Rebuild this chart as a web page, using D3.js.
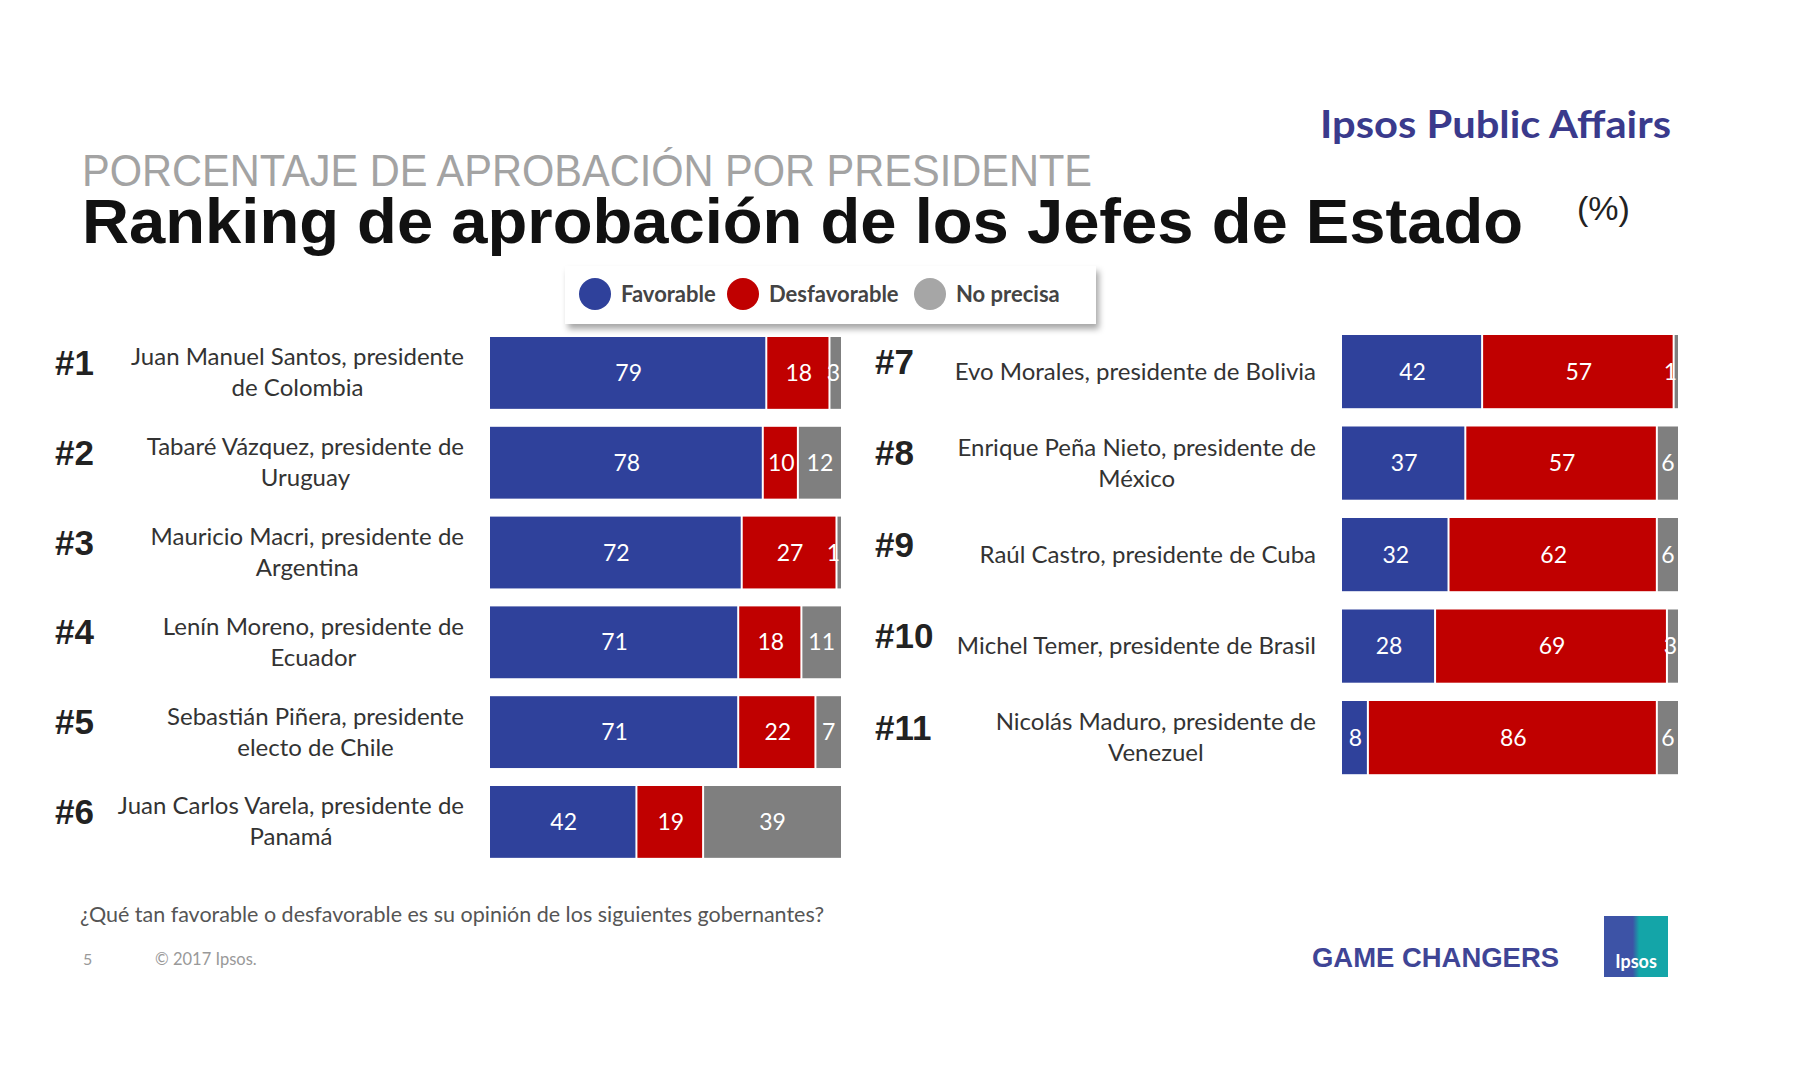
<!DOCTYPE html>
<html>
<head>
<script src="https://d3js.org/d3.v7.min.js"></script>
<style>
  body { margin: 0; background: #fff; }
  svg text { font-family: Lato, "Open Sans", sans-serif; }
</style>
</head>
<body>
<script>
// data
var ranks = ['#1', '#2', '#3', '#4', '#5', '#6', '#7', '#8', '#9', '#10', '#11'];
var names = [
  ['Juan Manuel Santos, presidente', 'de Colombia'],
  ['Tabaré Vázquez, presidente de', 'Uruguay'],
  ['Mauricio Macri, presidente de', 'Argentina'],
  ['Lenín Moreno, presidente de', 'Ecuador'],
  ['Sebastián Piñera, presidente', 'electo de Chile'],
  ['Juan Carlos Varela, presidente de', 'Panamá'],
  ['Evo Morales, presidente de Bolivia'],
  ['Enrique Peña Nieto, presidente de', 'México'],
  ['Raúl Castro, presidente de Cuba'],
  ['Michel Temer, presidente de Brasil'],
  ['Nicolás Maduro, presidente de', 'Venezuel']
];
var favorable    = [79, 78, 72, 71, 71, 42, 42, 37, 32, 28, 8];
var desfavorable = [18, 10, 27, 18, 22, 19, 57, 57, 62, 69, 86];
var noPrecisa    = [3, 12, 1, 11, 7, 39, 1, 6, 6, 3, 6];
var seriesNames  = ['Favorable', 'Desfavorable', 'No precisa'];
var colors       = ['#2f419b', '#c00000', '#7f7f7f'];

var w = 1800, h = 1091;
var svg = d3.select('body').append('svg').attr('width', w).attr('height', h);

var defs = svg.append('defs');
var f = defs.append('filter').attr('id', 'shadow').attr('x', '-10%').attr('y', '-30%').attr('width', '120%').attr('height', '170%');
f.append('feDropShadow').attr('dx', 3).attr('dy', 5).attr('stdDeviation', 3).attr('flood-color', '#000').attr('flood-opacity', 0.35);
var lg = defs.append('linearGradient').attr('id', 'logo').attr('x1', 0).attr('x2', 1).attr('y1', 0).attr('y2', 0);
lg.append('stop').attr('offset', '0%').attr('stop-color', '#3d53a6');
lg.append('stop').attr('offset', '45%').attr('stop-color', '#3d53a6');
lg.append('stop').attr('offset', '55%').attr('stop-color', '#14a5a8');
lg.append('stop').attr('offset', '100%').attr('stop-color', '#14a5a8');

// headings
svg.append('text').attr('x', 1320).attr('y', 138)
  .attr('textLength', 351).attr('lengthAdjust', 'spacingAndGlyphs')
  .style('font-family', 'Lato').style('font-weight', 700).style('font-size', '38px')
  .style('fill', '#3a3a8c').text('Ipsos Public Affairs');

svg.append('text').attr('x', 82).attr('y', 186)
  .attr('textLength', 1010).attr('lengthAdjust', 'spacingAndGlyphs')
  .style('font-family', 'Liberation Sans').style('font-weight', 400).style('font-size', '44px')
  .style('fill', '#a3a3a3').text('PORCENTAJE DE APROBACIÓN POR PRESIDENTE');

svg.append('text').attr('x', 82).attr('y', 243)
  .attr('textLength', 1441).attr('lengthAdjust', 'spacingAndGlyphs')
  .style('font-family', 'Liberation Sans').style('font-weight', 700).style('font-size', '63px')
  .style('fill', '#111').text('Ranking de aprobación de los Jefes de Estado');

svg.append('text').attr('x', 1577).attr('y', 220)
  .style('font-family', 'Liberation Sans').style('font-size', '34px')
  .style('fill', '#222').text('(%)');

// legend
var legend = svg.append('g');
legend.append('rect').attr('x', 565).attr('y', 266).attr('width', 531).attr('height', 58)
  .attr('fill', '#fff').attr('filter', 'url(#shadow)');
var legX = [595, 743, 930];
seriesNames.forEach(function (s, i) {
  legend.append('circle').attr('cx', legX[i]).attr('cy', 294).attr('r', 16).attr('fill', i == 2 ? '#a6a6a6' : colors[i]);
  legend.append('text').attr('x', legX[i] + 26).attr('y', 302)
    .style('font-size', '22px').style('font-weight', 700).style('fill', '#444')
    .text(s);
});

// one column of bars
function column(idx, x0, x1, top, step, rankX, nameRight) {
  var n = idx.length;
  var x = d3.scaleLinear().domain([0, 100]).range([x0, x1]);
  var y = d3.scaleBand().domain(idx).range([top, top + step * (n - 0.2)]).paddingInner(0.2).paddingOuter(0);
  var g = svg.append('g');

  idx.forEach(function (i) {
    var vals = [favorable[i], desfavorable[i], noPrecisa[i]];
    var stack = d3.cumsum(vals);
    var by = y(i), bh = y.bandwidth(), cy = by + bh / 2;

    vals.forEach(function (v, k) {
      var a = x(stack[k] - v), b = x(stack[k]);
      g.append('rect').attr('x', a).attr('y', by).attr('width', Math.max(0, b - a - (k < 2 ? 2 : 0)))
        .attr('height', bh).attr('fill', colors[k]);
      var t = g.append('text').attr('y', cy + 8).attr('text-anchor', 'middle')
        .style('font-size', '23px').style('fill', '#fff').text(v);
      var tw = t.node().getComputedTextLength();
      var cx = (a + b) / 2;
      if (cx + tw / 2 > x1 - 1) cx = x1 - 1 - tw / 2;
      t.attr('x', cx);
    });

    g.append('text').attr('x', rankX).attr('y', cy + 2)
      .style('font-family', 'Liberation Sans').style('font-weight', 700).style('font-size', '35px')
      .style('fill', '#222').text(ranks[i]);

    var lines = names[i];
    var nt = g.append('text').style('font-size', '24px').style('fill', '#333').attr('text-anchor', 'middle');
    var lh = 31;
    lines.forEach(function (l, j) {
      nt.append('tspan').attr('y', cy + 8 - (lines.length - 1) * lh / 2 + j * lh).text(l);
    });
    var maxW = 0;
    nt.selectAll('tspan').each(function () { maxW = Math.max(maxW, this.getComputedTextLength()); });
    nt.selectAll('tspan').attr('x', nameRight - maxW / 2);
  });
}

column([0, 1, 2, 3, 4, 5], 490, 841, 337, 89.8, 55, 464);
column([6, 7, 8, 9, 10], 1342, 1678, 335, 91.5, 875, 1316);

// footer
svg.append('text').attr('x', 80).attr('y', 922)
  .style('font-size', '21.5px').style('fill', '#555')
  .text('¿Qué tan favorable o desfavorable es su opinión de los siguientes gobernantes?');
svg.append('text').attr('x', 83).attr('y', 965).style('font-size', '16px').style('fill', '#999').text('5');
svg.append('text').attr('x', 155).attr('y', 965).style('font-size', '16.5px').style('fill', '#999').text('© 2017 Ipsos.');

svg.append('text').attr('x', 1312).attr('y', 967)
  .attr('textLength', 247).attr('lengthAdjust', 'spacingAndGlyphs')
  .style('font-family', 'Liberation Sans').style('font-weight', 700).style('font-size', '28px')
  .style('fill', '#3f4596').text('GAME CHANGERS');

svg.append('rect').attr('x', 1604).attr('y', 916).attr('width', 64).attr('height', 61).attr('fill', 'url(#logo)');
svg.append('text').attr('x', 1636).attr('y', 968).attr('text-anchor', 'middle')
  .style('font-size', '18px').style('font-weight', 700).style('fill', '#fff').text('Ipsos');
</script>
</body>
</html>
